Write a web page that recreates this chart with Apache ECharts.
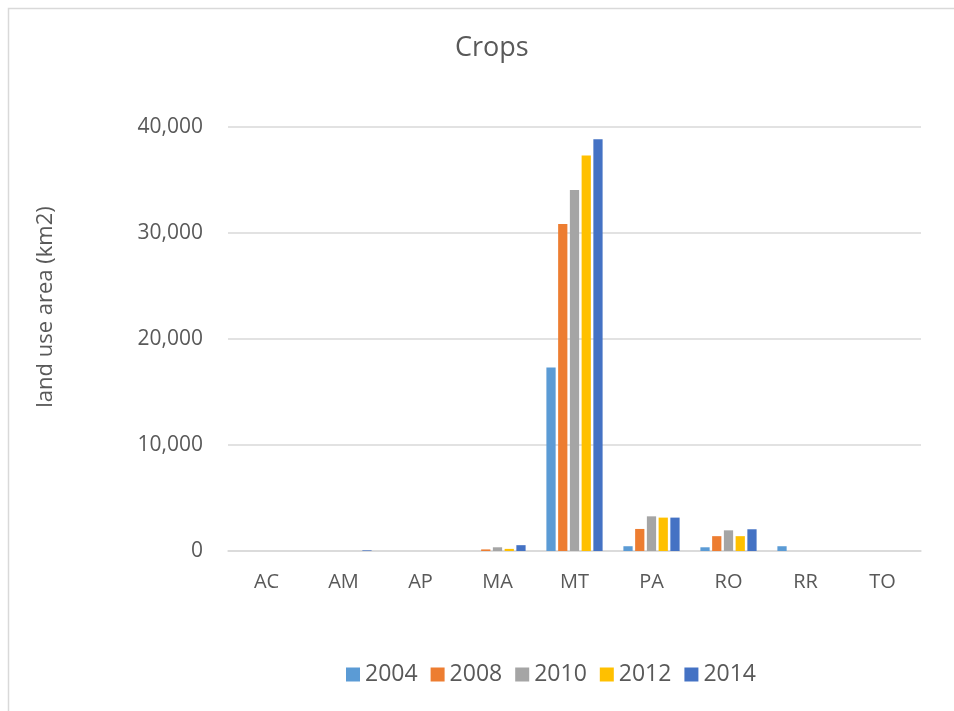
<!DOCTYPE html>
<html>
<head>
<meta charset="utf-8">
<script src="https://cdn.jsdelivr.net/npm/echarts@6/dist/echarts.min.js"></script>
<style>
html,body{margin:0;padding:0;background:#fff;}
#chart{width:954px;height:711px;}
</style>
</head>
<body>
<div id="chart"></div>
<script>
const categories = ['AC','AM','AP','MA','MT','PA','RO','RR','TO'];
const years = ['2004','2008','2010','2012','2014'];
const v2004 = [0, 0, 0, 0, 17300, 450, 350, 450, 0];
const v2008 = [0, 0, 0, 150, 30850, 2080, 1400, 0, 0];
const v2010 = [0, 0, 0, 350, 34060, 3270, 1950, 0, 0];
const v2012 = [0, 0, 0, 200, 37300, 3150, 1400, 0, 0];
const v2014 = [0, 60, 0, 550, 38840, 3150, 2050, 0, 0];
const yTicks = [0, 10000, 20000, 30000, 40000];

const colors = ['#5B9BD5','#ED7D31','#A5A5A5','#FFC000','#4472C4'];
const seriesValues = [v2004, v2008, v2010, v2012, v2014];
const font = '"Open Sans", sans-serif';
const textColor = '#595959';

const chart = echarts.init(document.getElementById('chart'), null, {renderer:'canvas'});
chart.setOption({
  animation: false,
  backgroundColor: '#fff',
  color: colors,
  title: {
    text: 'Crops',
    left: 450,
    top: 30,
    textStyle: {fontFamily: font, fontSize: 27, fontWeight: 'normal', color: textColor}
  },
  graphic: [
    {type:'rect', shape:{x:8.5, y:8.5, width:980, height:760}, style:{fill:'none', stroke:'#D9D9D9', lineWidth:1.5}, silent:true, z:-1},
    {type:'text', x:46, y:307, rotation: Math.PI/2,
     style:{text:'land use area (km2)', fontFamily: font, fontSize: 22, fill: textColor, textAlign:'center', textVerticalAlign:'middle'}}
  ],
  legend: {
    data: years,
    bottom: 20,
    left: 341,
    itemWidth: 14,
    itemHeight: 14,
    itemGap: 13,
    icon: 'rect',
    textStyle: {fontFamily: font, fontSize: 23, color: textColor}
  },
  grid: {left: 228, right: 33, top: 127, bottom: 160, containLabel: false},
  xAxis: {
    type: 'category',
    data: categories,
    axisLine: {lineStyle: {color: '#D9D9D9', width: 1.5}},
    axisTick: {show: false},
    axisLabel: {fontFamily: font, fontSize: 20, color: textColor, margin: 21}
  },
  yAxis: {
    type: 'value',
    min: 0,
    max: 40000,
    interval: 10000,
    axisLine: {show: false},
    axisTick: {show: false},
    splitLine: {lineStyle: {color: '#D9D9D9', width: 1.5}},
    axisLabel: {fontFamily: font, fontSize: 21, color: textColor, margin: 25,
      formatter: v => v.toLocaleString('en-US')}
  },
  series: years.map((y, i) => ({
    name: y,
    type: 'bar',
    data: seriesValues[i],
    barGap: '27%',
    barCategoryGap: '27%',
    itemStyle: {color: colors[i]}
  }))
});
</script>
</body>
</html>
